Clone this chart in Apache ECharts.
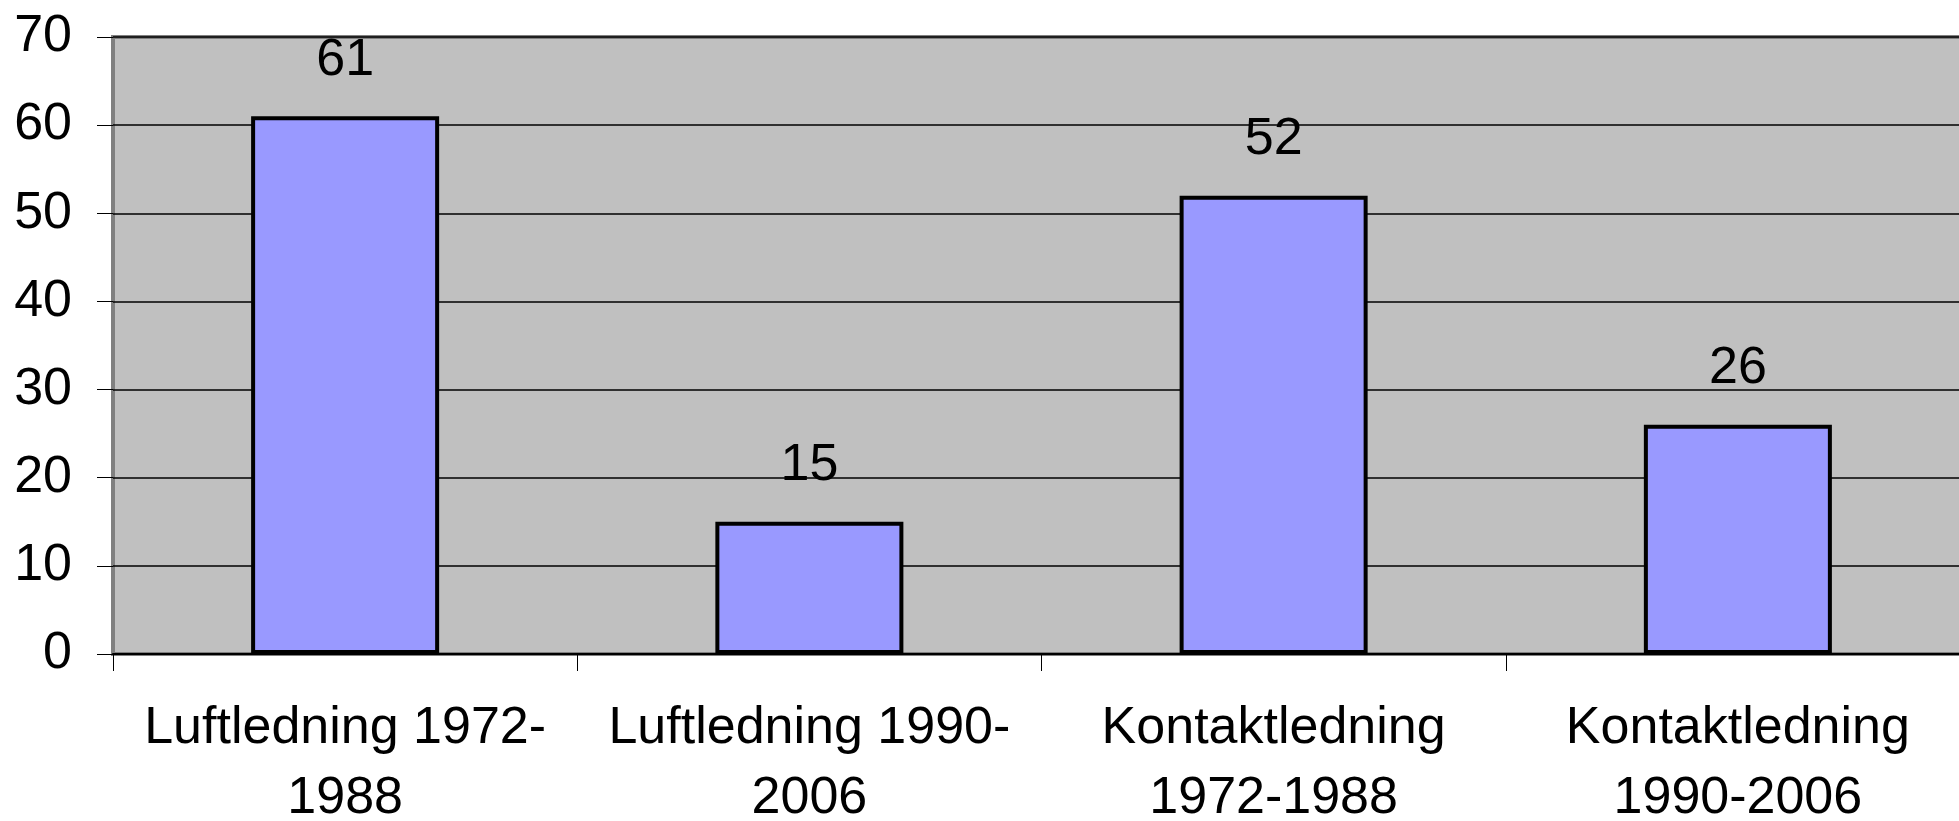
<!DOCTYPE html>
<html>
<head>
<meta charset="utf-8">
<script src="https://cdn.jsdelivr.net/npm/echarts@6/dist/echarts.min.js"></script>
<style>
  html, body { margin: 0; padding: 0; background: #fff; }
  #chart { width: 1959px; height: 821px; }
</style>
</head>
<body>
<div id="chart"></div>
<script>
// data
var categories = ['Luftledning 1972-\n1988', 'Luftledning 1990-\n2006', 'Kontaktledning\n1972-1988', 'Kontaktledning\n1990-2006']
var values = [61, 15, 52, 26]
var yTicks = [0, 10, 20, 30, 40, 50, 60, 70]

var chart = echarts.init(document.getElementById('chart'))
chart.setOption({
  animation: false,
  textStyle: { fontFamily: 'Liberation Sans, Arial, sans-serif', color: '#000' },
  grid: {
    left: 113,
    top: 37,
    right: -11,
    bottom: 167,
    outerBoundsMode: 'none',
    containLabel: false,
    show: true,
    backgroundColor: '#c0c0c0',
    borderColor: '#808080',
    borderWidth: 4
  },
  xAxis: {
    type: 'category',
    data: categories,
    axisLine: { lineStyle: { color: '#000', width: 2 } },
    axisTick: { show: true, length: 17, lineStyle: { color: '#000', width: 1 } },
    axisLabel: {
      color: '#000',
      fontSize: 52,
      lineHeight: 70,
      margin: 40,
      interval: 0
    }
  },
  yAxis: {
    type: 'value',
    min: yTicks[0],
    max: yTicks[yTicks.length - 1],
    interval: 10,
    axisLine: { show: false },
    axisTick: { show: true, length: 16, lineStyle: { color: '#000', width: 1 } },
    axisLabel: { color: '#000', fontSize: 52, margin: 41 },
    splitLine: { lineStyle: { color: '#000', width: 1.5 } }
  },
  series: [{
    type: 'bar',
    data: values,
    barWidth: '40.5%',
    itemStyle: { color: '#9999ff', borderColor: '#000', borderWidth: 4 },
    label: {
      show: true,
      position: 'top',
      distance: 30,
      color: '#000',
      fontSize: 52
    }
  }]
})
</script>
</body>
</html>
